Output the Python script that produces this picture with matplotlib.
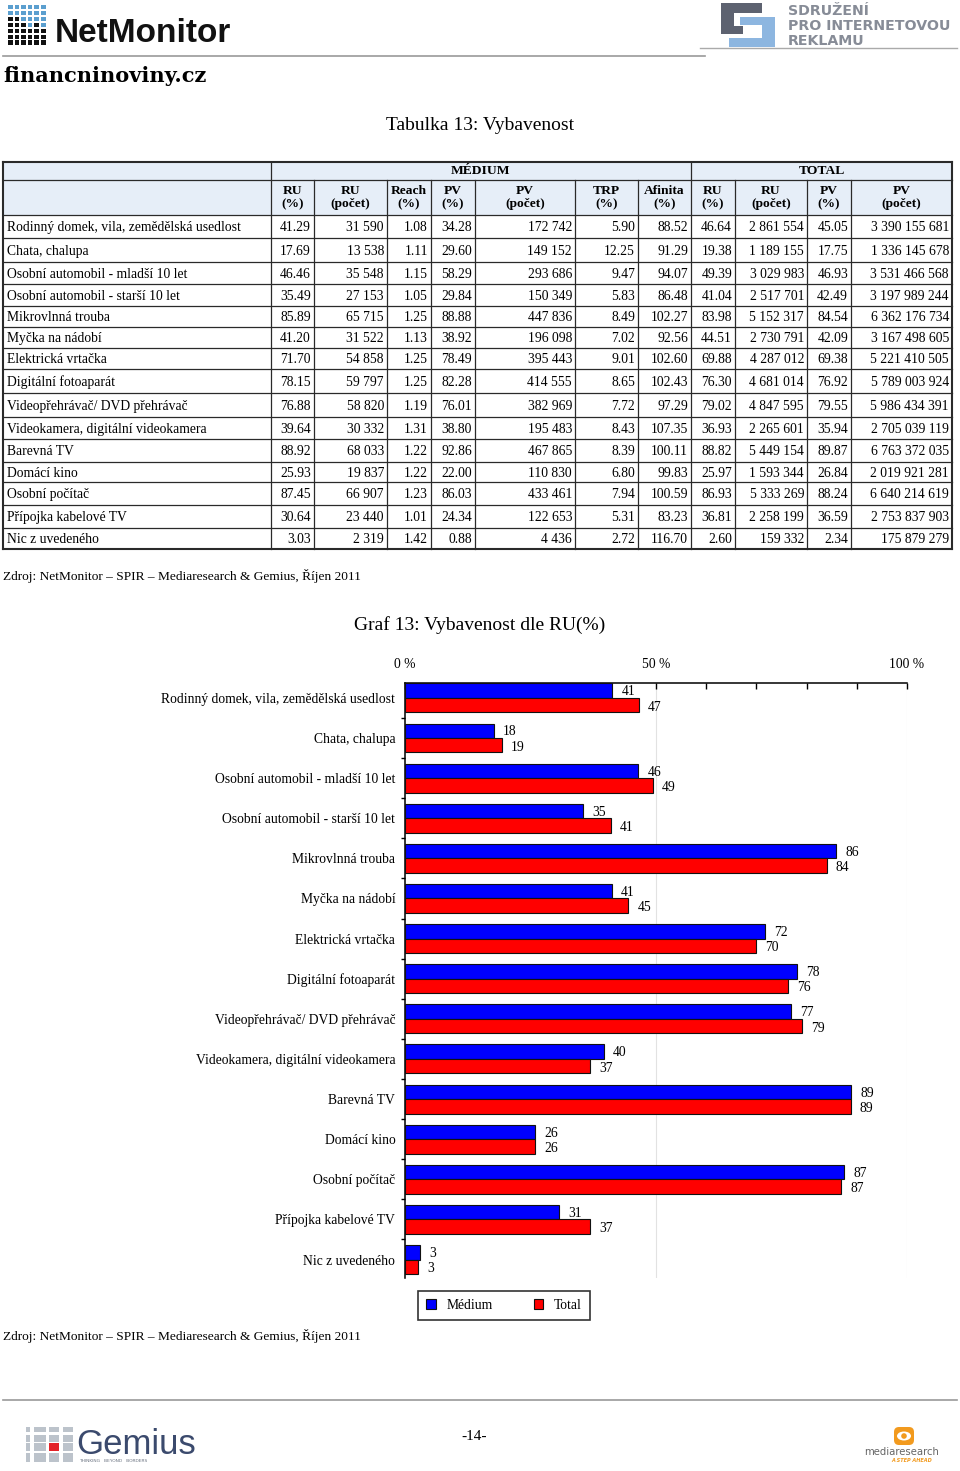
import matplotlib
matplotlib.use("Agg")
import matplotlib.pyplot as plt
from matplotlib.patches import Rectangle, FancyBboxPatch, Ellipse, Circle
import numpy as np

plt.rcParams['font.family'] = ['Liberation Serif', 'DejaVu Serif']

# ---- data ----
categories = [
    "Rodinný domek, vila, zemědělská usedlost",
    "Chata, chalupa",
    "Osobní automobil - mladší 10 let",
    "Osobní automobil - starší 10 let",
    "Mikrovlnná trouba",
    "Myčka na nádobí",
    "Elektrická vrtačka",
    "Digitální fotoaparát",
    "Videopřehrávač/ DVD přehrávač",
    "Videokamera, digitální videokamera",
    "Barevná TV",
    "Domácí kino",
    "Osobní počítač",
    "Přípojka kabelové TV",
    "Nic z uvedeného",
]
med_ru_pct = [41.29, 17.69, 46.46, 35.49, 85.89, 41.20, 71.70, 78.15, 76.88, 39.64, 88.92, 25.93, 87.45, 30.64, 3.03]
med_ru_cnt = [31590, 13538, 35548, 27153, 65715, 31522, 54858, 59797, 58820, 30332, 68033, 19837, 66907, 23440, 2319]
med_reach = [1.08, 1.11, 1.15, 1.05, 1.25, 1.13, 1.25, 1.25, 1.19, 1.31, 1.22, 1.22, 1.23, 1.01, 1.42]
med_pv_pct = [34.28, 29.60, 58.29, 29.84, 88.88, 38.92, 78.49, 82.28, 76.01, 38.80, 92.86, 22.00, 86.03, 24.34, 0.88]
med_pv_cnt = [172742, 149152, 293686, 150349, 447836, 196098, 395443, 414555, 382969, 195483, 467865, 110830, 433461, 122653, 4436]
med_trp = [5.90, 12.25, 9.47, 5.83, 8.49, 7.02, 9.01, 8.65, 7.72, 8.43, 8.39, 6.80, 7.94, 5.31, 2.72]
med_afin = [88.52, 91.29, 94.07, 86.48, 102.27, 92.56, 102.60, 102.43, 97.29, 107.35, 100.11, 99.83, 100.59, 83.23, 116.70]
tot_ru_pct = [46.64, 19.38, 49.39, 41.04, 83.98, 44.51, 69.88, 76.30, 79.02, 36.93, 88.82, 25.97, 86.93, 36.81, 2.60]
tot_ru_cnt = [2861554, 1189155, 3029983, 2517701, 5152317, 2730791, 4287012, 4681014, 4847595, 2265601, 5449154, 1593344, 5333269, 2258199, 159332]
tot_pv_pct = [45.05, 17.75, 46.93, 42.49, 84.54, 42.09, 69.38, 76.92, 79.55, 35.94, 89.87, 26.84, 88.24, 36.59, 2.34]
tot_pv_cnt = [3390155681, 1336145678, 3531466568, 3197989244, 6362176734, 3167498605, 5221410505,
              5789003924, 5986434391, 2705039119, 6763372035, 2019921281, 6640214619, 2753837903, 175879279]

col_heads = ["RU\n(%)", "RU\n(počet)", "Reach\n(%)", "PV\n(%)", "PV\n(počet)", "TRP\n(%)",
             "Afinita\n(%)", "RU\n(%)", "RU\n(počet)", "PV\n(%)", "PV\n(počet)"]
group_heads = ["MÉDIUM", "TOTAL"]
xtick_vals = list(range(0, 101, 10))
xtick_labels = ["0 %", "", "", "", "", "50 %", "", "", "", "", "100 %"]
series_names = ["Médium", "Total"]
source = "Zdroj: NetMonitor – SPIR – Mediaresearch & Gemius, Říjen 2011"

# ---- layout ----
W, H = 960, 1471
TXT = 9.8
HEAD = 9.7
COL_X = [3, 271, 314, 387, 431, 475, 575, 638, 691, 735, 807, 851, 952]
ROW_Y = [215, 238, 262, 284, 306, 327, 348, 369, 393, 417, 439, 462, 482, 505, 528, 549]
LINE = '#2a2a2a'

fig = plt.figure(figsize=(W / 100, H / 100), dpi=100)
page = fig.add_axes([0, 0, 1, 1])
page.set_xlim(0, W)
page.set_ylim(H, 0)
page.axis('off')

# header: NetMonitor logo
pattern = [[0, 0, 0, 0, 0, 0],
           [0, 0, 0, 0, 0, 0],
           [1, 1, 0, 0, 0, 0],
           [1, 1, 1, 0, 1, 0],
           [1, 1, 1, 1, 1, 1],
           [1, 1, 1, 1, 1, 1],
           [1, 1, 1, 1, 1, 1]]
for r, row in enumerate(pattern):
    for c, v in enumerate(row):
        page.add_patch(Rectangle((8 + c * 6.6, 5 + r * 5.9), 4.6, 4.2,
                                 color='#5b9fcf' if v == 0 else '#111111', lw=0))
page.text(55, 33, "NetMonitor", fontsize=24, fontweight='bold', family='Liberation Sans',
          va='center', ha='left', color='#111111')
page.plot([3, 705], [56, 56], color='#999999', lw=1.2)
page.text(3, 76, "financninoviny.cz", fontsize=15, fontweight='bold', family='DejaVu Serif',
          va='center', ha='left')

# SPIR logo
for (x, y, w, h) in [(721, 3, 41, 10), (721, 3, 13, 31), (721, 26, 22, 8)]:
    page.add_patch(Rectangle((x, y), w, h, color='#5d6270', lw=0))
for (x, y, w, h) in [(740, 17, 35, 8), (762, 17, 13, 30), (729, 38, 46, 9)]:
    page.add_patch(Rectangle((x, y), w, h, color='#8db6e0', lw=0))
for i, t in enumerate(["SDRUŽENÍ", "PRO INTERNETOVOU", "REKLAMU"]):
    page.text(788, 11 + i * 15, t, fontsize=10.2, fontweight='bold', family='DejaVu Sans',
              color='#878c97', va='center', ha='left')
page.plot([700, 957], [48, 48], color='#aaaaaa', lw=1)

# table title
page.text(480, 125, "Tabulka 13: Vybavenost", fontsize=14, ha='center', va='center')

# table
page.add_patch(Rectangle((COL_X[0], 162), COL_X[-1] - COL_X[0], ROW_Y[0] - 162,
                         facecolor='#e6eef8', edgecolor='none'))
for y in [162, 180] + ROW_Y:
    lw = 1.5 if y in (162, ROW_Y[-1]) else 0.9
    page.plot([COL_X[0], COL_X[-1]], [y, y], color=LINE, lw=lw)
for i, x in enumerate(COL_X):
    top = 162 if i in (0, 1, 8, 12) else 180
    lw = 1.5 if i in (0, 12) else 0.9
    page.plot([x, x], [top, ROW_Y[-1]], color=LINE, lw=lw)
page.text((COL_X[1] + COL_X[8]) / 2, 171, group_heads[0], fontsize=HEAD, fontweight='bold',
          ha='center', va='center')
page.text((COL_X[8] + COL_X[12]) / 2, 171, group_heads[1], fontsize=HEAD, fontweight='bold',
          ha='center', va='center')
for j, hd in enumerate(col_heads):
    page.text((COL_X[j + 1] + COL_X[j + 2]) / 2, 197.5, hd, fontsize=HEAD, fontweight='bold',
              ha='center', va='center', linespacing=1.2)


def pct(v):
    return f"{v:.2f}"


def cnt(v):
    return f"{v:,}".replace(",", " ")


table_cols = [(med_ru_pct, pct), (med_ru_cnt, cnt), (med_reach, pct), (med_pv_pct, pct),
              (med_pv_cnt, cnt), (med_trp, pct), (med_afin, pct), (tot_ru_pct, pct),
              (tot_ru_cnt, cnt), (tot_pv_pct, pct), (tot_pv_cnt, cnt)]
for i, cat in enumerate(categories):
    yc = (ROW_Y[i] + ROW_Y[i + 1]) / 2 + 1
    page.text(COL_X[0] + 4, yc, cat, fontsize=TXT, ha='left', va='center')
    for j, (vals, f) in enumerate(table_cols):
        page.text(COL_X[j + 2] - 3, yc, f(vals[i]), fontsize=TXT, ha='right', va='center')

page.text(3, 576, source, fontsize=9.6, ha='left', va='center')

# chart
page.text(480, 625, "Graf 13: Vybavenost dle RU(%)", fontsize=14, ha='center', va='center')

ax = fig.add_axes([405 / W, 1 - 1278 / H, (907 - 405) / W, (1278 - 683) / H])
y = np.arange(len(categories))
bh = 0.36
ax.barh(y - bh / 2, med_ru_pct, height=bh, color='#0000ff', edgecolor='#111111', lw=0.8,
        label=series_names[0], zorder=3)
ax.barh(y + bh / 2, tot_ru_pct, height=bh, color='#ff0000', edgecolor='#111111', lw=0.8,
        label=series_names[1], zorder=3)
for yi, v in zip(y, med_ru_pct):
    ax.text(v + 1.8, yi - bh / 2 + 0.03, f"{round(v)}", fontsize=TXT, ha='left', va='center')
for yi, v in zip(y, tot_ru_pct):
    ax.text(v + 1.8, yi + bh / 2 + 0.05, f"{round(v)}", fontsize=TXT, ha='left', va='center')

ax.set_xlim(0, 100)
ax.set_ylim(len(categories) - 0.54, -0.37)
ax.xaxis.tick_top()
ax.set_xticks(xtick_vals)
ax.set_xticklabels(xtick_labels, fontsize=TXT)
ax.tick_params(axis='x', direction='in', length=4, width=1, pad=9)
ax.set_yticks(y)
ax.set_yticklabels(categories, fontsize=TXT)
ax.tick_params(axis='y', which='major', length=0, pad=7)
ax.set_yticks(y[:-1] + 0.5, minor=True)
ax.tick_params(axis='y', which='minor', length=3, width=1, direction='out')
for x in (50, 100):
    ax.axvline(x, color='#e2e2e2', lw=0.8, zorder=0)
for s in ('right', 'bottom'):
    ax.spines[s].set_visible(False)
for s in ('top', 'left'):
    ax.spines[s].set_linewidth(1.1)
ax.set_facecolor('none')

handles, labels = ax.get_legend_handles_labels()
leg = fig.legend(handles, labels, loc='center', bbox_to_anchor=(504 / W, 1 - 1305.5 / H),
                 ncol=2, frameon=True, fancybox=False, edgecolor='black', fontsize=TXT,
                 handlelength=0.7, handleheight=0.7, columnspacing=3.0, handletextpad=0.8,
                 borderpad=0.6)
leg.get_frame().set_linewidth(1.2)

page.text(3, 1336, source, fontsize=9.6, ha='left', va='center')

# footer
page.plot([3, 957], [1400, 1400], color='#999999', lw=1.2)
gx = [26, 34, 49, 63]
gw = [4, 12, 10, 10]
gy = [1427, 1435, 1443, 1453]
gh = [5, 7, 8, 9]
for ci in range(4):
    for ri in range(4):
        col = '#e32228' if (ci == 2 and ri == 2) else '#bcc3cb'
        page.add_patch(Rectangle((gx[ci], gy[ri]), gw[ci], gh[ri], color=col, lw=0))
page.text(76, 1444, "Gemius", fontsize=25, family='Liberation Sans', color='#3b4a6d',
          ha='left', va='center')
page.text(79, 1461, "THINKING   BEYOND   BORDERS", fontsize=3.2, family='DejaVu Sans',
          color='#6a7280', ha='left', va='center')
page.text(474, 1436, "-14-", fontsize=11, ha='center', va='center')

page.add_patch(FancyBboxPatch((894, 1427), 20, 18, boxstyle='round,pad=0,rounding_size=5',
                              color='#f29a1e', lw=0))
page.add_patch(Ellipse((904, 1436), 14, 9, color='white', lw=0))
page.add_patch(Circle((904, 1436), 2.8, color='#f29a1e', lw=0))
page.text(902, 1452, "mediaresearch", fontsize=7.3, family='DejaVu Sans', color='#666666',
          ha='center', va='center')
page.text(912, 1461, "A STEP AHEAD", fontsize=3.6, family='DejaVu Sans', style='italic',
          fontweight='bold', color='#f29a1e', ha='center', va='center')

fig.savefig("out.png", dpi=100)
